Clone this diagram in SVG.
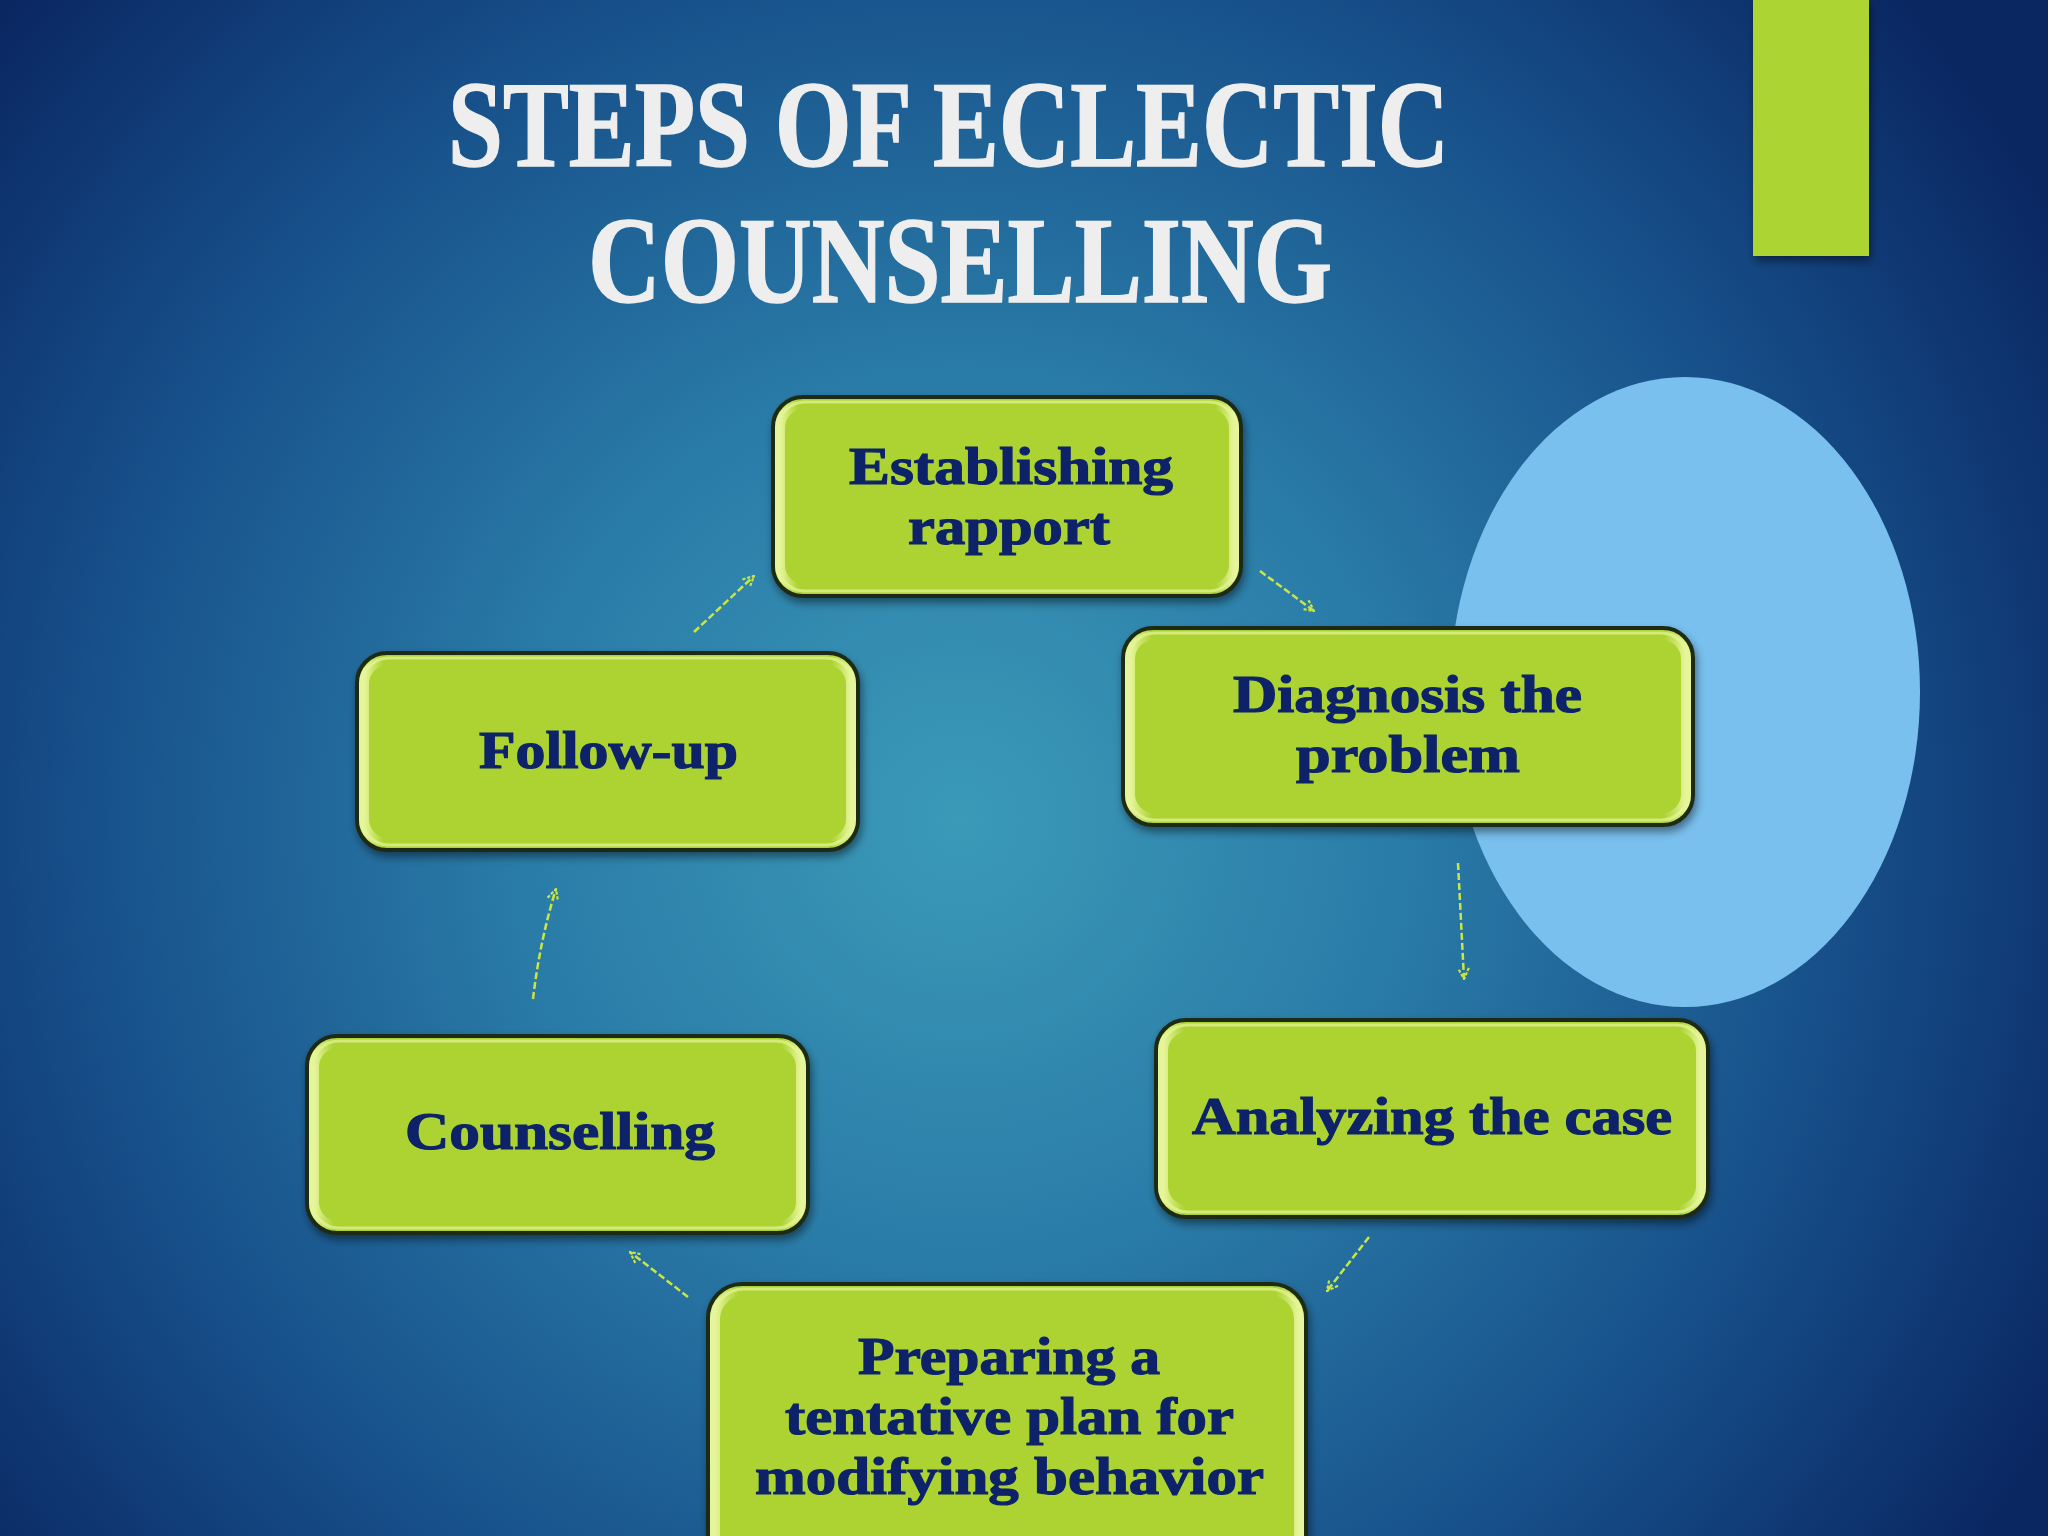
<svg xmlns="http://www.w3.org/2000/svg" width="2048" height="1536" viewBox="0 0 2048 1536">
<defs>
<radialGradient id="bg" cx="960" cy="820" r="1250" gradientUnits="userSpaceOnUse">
<stop offset="0" stop-color="#3b9ab8"/>
<stop offset="0.35" stop-color="#2a7ca8"/>
<stop offset="0.7" stop-color="#17508a"/>
<stop offset="1" stop-color="#0a2762"/>
</radialGradient>
<linearGradient id="gloss" x1="0" y1="0" x2="1" y2="0">
<stop offset="0" stop-color="#eef9a8" stop-opacity="0.9"/>
<stop offset="0.04" stop-color="#eef9a8" stop-opacity="0"/>
<stop offset="0.96" stop-color="#eef9a8" stop-opacity="0"/>
<stop offset="1" stop-color="#eef9a8" stop-opacity="0.9"/>
</linearGradient>
<filter id="sh" x="-10%" y="-10%" width="120%" height="130%">
<feDropShadow dx="2" dy="5" stdDeviation="4" flood-color="#000" flood-opacity="0.45"/>
</filter>
<marker id="ah" viewBox="0 0 12 12" refX="11" refY="6" markerWidth="13" markerHeight="13" markerUnits="userSpaceOnUse" orient="auto">
<path d="M1,1 L11,6 L1,11" fill="none" stroke="#cbe640" stroke-width="2" stroke-dasharray="3 1.5"/>
</marker>
</defs>
<style>
.box{fill:#acd332;stroke:#1e2a16;stroke-width:4}
.hl{fill:none;stroke:url(#gloss);stroke-width:10}
.rim{fill:none;stroke:#e4f59a;stroke-width:3;stroke-opacity:0.7}
.lbl{font-family:"Liberation Serif","Times New Roman",serif;font-weight:bold;font-size:52px;fill:#0a2468;stroke:#0a2468;stroke-width:1.2;text-anchor:start}
.title{font-family:"Liberation Serif","Times New Roman",serif;font-weight:bold;font-size:122px;fill:#eeeeee;stroke:#eeeeee;stroke-width:1.5}
.conn{fill:none;stroke:#cbe640;stroke-width:2.5;stroke-dasharray:7 3;marker-end:url(#ah)}
</style>
<rect x="0" y="0" width="2048" height="1536" fill="url(#bg)"/>
<rect x="1753" y="0" width="116" height="256" fill="#acd433" filter="url(#sh)"/>
<g id="title">
<text class="title" x="448" y="166" textLength="1001" lengthAdjust="spacingAndGlyphs">STEPS OF ECLECTIC</text>
<text class="title" x="588" y="302" textLength="744" lengthAdjust="spacingAndGlyphs">COUNSELLING</text>
</g>
<ellipse id="circle" cx="1685" cy="692" rx="235" ry="315" fill="#79c0ee"/>
<g id="connectors">
<path class="conn" d="M1260,571 L1314,611"/>
<path class="conn" d="M1458,863 L1464,979"/>
<path class="conn" d="M1369,1237 L1327,1291"/>
<path class="conn" d="M688,1297 L630,1252"/>
<path class="conn" d="M533,999 Q540,940 556,889"/>
<path class="conn" d="M694,632 L754,576"/>
</g>
<g id="n1" filter="url(#sh)">
<rect class="box" x="773" y="397" width="468" height="199" rx="30"/>
<rect class="hl" x="780" y="404" width="454" height="185" rx="24"/>
<rect class="rim" x="778" y="402" width="458" height="189" rx="27"/>
<text class="lbl" x="849" y="484" textLength="324" lengthAdjust="spacingAndGlyphs">Establishing</text>
<text class="lbl" x="908" y="544" textLength="202" lengthAdjust="spacingAndGlyphs">rapport</text>
</g>
<g id="n2" filter="url(#sh)">
<rect class="box" x="1123" y="628" width="570" height="197" rx="30"/>
<rect class="hl" x="1130" y="635" width="556" height="183" rx="24"/>
<rect class="rim" x="1128" y="633" width="560" height="187" rx="27"/>
<text class="lbl" x="1233" y="712" textLength="349" lengthAdjust="spacingAndGlyphs">Diagnosis the</text>
<text class="lbl" x="1296" y="772" textLength="224" lengthAdjust="spacingAndGlyphs">problem</text>
</g>
<g id="n3" filter="url(#sh)">
<rect class="box" x="1156" y="1020" width="552" height="197" rx="30"/>
<rect class="hl" x="1163" y="1027" width="538" height="183" rx="24"/>
<rect class="rim" x="1161" y="1025" width="542" height="187" rx="27"/>
<text class="lbl" x="1192" y="1134" textLength="480" lengthAdjust="spacingAndGlyphs">Analyzing the case</text>
</g>
<g id="n4" filter="url(#sh)">
<rect class="box" x="708" y="1284" width="598" height="300" rx="34"/>
<rect class="hl" x="715" y="1291" width="584" height="286" rx="28"/>
<rect class="rim" x="713" y="1289" width="588" height="290" rx="31"/>
<text class="lbl" x="858" y="1374" textLength="302" lengthAdjust="spacingAndGlyphs">Preparing a</text>
<text class="lbl" x="785" y="1434" textLength="449" lengthAdjust="spacingAndGlyphs">tentative plan for</text>
<text class="lbl" x="755" y="1494" textLength="509" lengthAdjust="spacingAndGlyphs">modifying behavior</text>
</g>
<g id="n5" filter="url(#sh)">
<rect class="box" x="307" y="1036" width="501" height="197" rx="30"/>
<rect class="hl" x="314" y="1043" width="487" height="183" rx="24"/>
<rect class="rim" x="312" y="1041" width="491" height="187" rx="27"/>
<text class="lbl" x="405" y="1149" textLength="310" lengthAdjust="spacingAndGlyphs">Counselling</text>
</g>
<g id="n6" filter="url(#sh)">
<rect class="box" x="357" y="653" width="501" height="197" rx="30"/>
<rect class="hl" x="364" y="660" width="487" height="183" rx="24"/>
<rect class="rim" x="362" y="658" width="491" height="187" rx="27"/>
<text class="lbl" x="479" y="768" textLength="259" lengthAdjust="spacingAndGlyphs">Follow-up</text>
</g>
</svg>
